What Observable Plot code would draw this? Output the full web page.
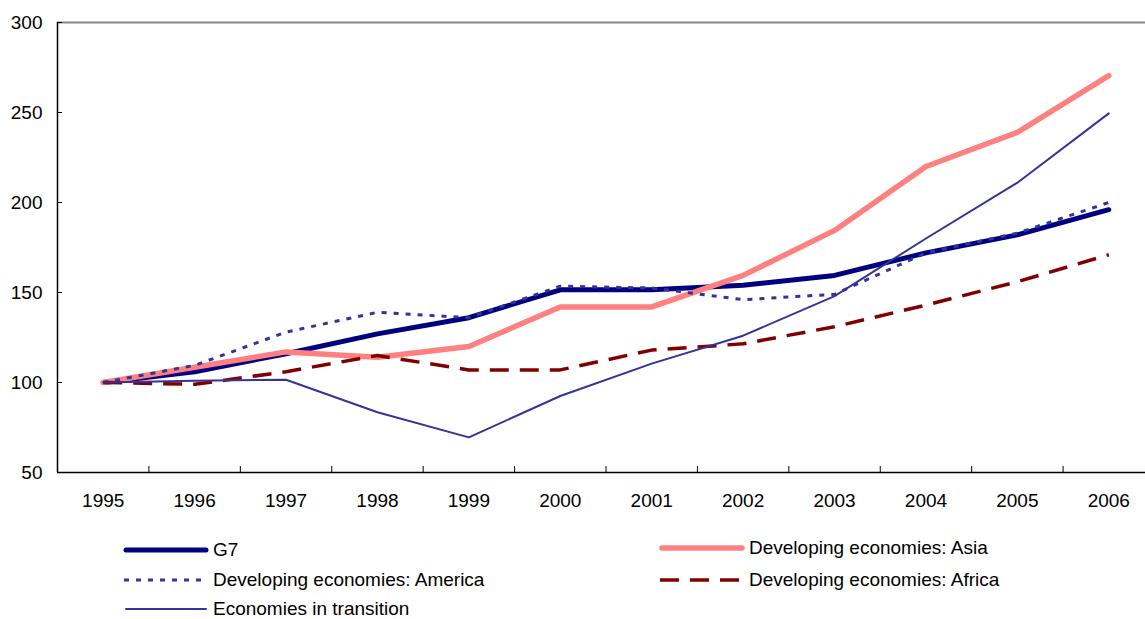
<!DOCTYPE html>
<html><head><meta charset="utf-8">
<script src="https://cdn.jsdelivr.net/npm/d3@7"></script>
<script src="https://cdn.jsdelivr.net/npm/@observablehq/plot@0.6"></script>
<style>
body{margin:0;background:#fff;font-family:Arial,"Liberation Sans",sans-serif;}
#legend{position:relative;height:94px;width:1145px;}
.item{position:absolute;display:flex;align-items:center;font-size:19px;color:#000;height:24px;white-space:nowrap;}
.item svg{margin-right:3px;}
</style></head><body>
<div id="chart"></div>
<div id="legend"></div>
<script>
const years = [1995, 1996, 1997, 1998, 1999, 2000, 2001, 2002, 2003, 2004, 2005, 2006];
const yTicks = [50, 100, 150, 200, 250, 300];
const seriesNames = ["G7", "Developing economies: Asia", "Developing economies: America", "Developing economies: Africa", "Economies in transition"];
const g7 = [100, 106, 116, 127, 136, 151.5, 151.5, 154, 159.5, 172, 182, 196];
const asia = [100, 108.5, 117, 114, 120, 142, 142, 159.5, 184.5, 220, 239, 270.5];
const america = [100, 109.5, 128, 139, 136, 153.5, 152.5, 146, 149, 172, 183, 200];
const africa = [100, 99, 106, 115, 107, 107, 118, 121.5, 131, 143, 156, 171];
const transition = [100, 101, 101.5, 83.5, 69.5, 92.5, 110.5, 126, 148, 180, 211, 249.5];

const valuesList = [g7, asia, america, africa, transition];
const styles = [
  {color: "#000080", width: 5, dash: null, cap: "round"},
  {color: "#FF8080", width: 5.5, dash: null, cap: "round"},
  {color: "#333399", width: 3, dash: "5,7", cap: "butt"},
  {color: "#800000", width: 3.5, dash: "19,11", cap: "butt"},
  {color: "#333399", width: 2, dash: null, cap: "round"}
];

const data = seriesNames.flatMap((name, k) => years.map((year, i) => ({year, value: valuesList[k][i], name})));
const halfYears = years.slice(1).map(y => y - 0.5);
const x0 = years[0] - 0.5, x1 = years[years.length - 1] + 0.5;

const chart = Plot.plot({
  width: 1145, height: 525,
  marginTop: 22, marginBottom: 53, marginLeft: 57, marginRight: 0,
  style: {fontFamily: 'Arial,"Liberation Sans",sans-serif', fontSize: "19px", color: "#000", background: "#fff", overflow: "visible"},
  x: {type: "linear", domain: [x0, x1], range: [57, 1154]},
  y: {domain: [50, 300]},
  marks: [
    Plot.ruleY([300], {stroke: "#888", strokeWidth: 2}),
    Plot.axisY(yTicks, {tickSize: 0, tickPadding: 15, label: null, fontSize: 19}),
    Plot.axisY(yTicks, {tickSize: 5, dx: 5, tickFormat: () => "", label: null}),
    Plot.axisX(years, {tickSize: 0, tickPadding: 21, tickFormat: d => String(d), label: null, fontSize: 19}),
    Plot.axisX(halfYears, {tickSize: 6, dy: -6, tickFormat: () => "", label: null}),
    Plot.ruleY([50], {stroke: "#000", strokeWidth: 1.5}),
    Plot.ruleX([x0], {stroke: "#000", strokeWidth: 1.5}),
    ...seriesNames.map((name, k) => Plot.line(data.filter(d => d.name === name), {
      x: "year", y: "value", stroke: styles[k].color, strokeWidth: styles[k].width,
      strokeDasharray: styles[k].dash, strokeLinejoin: "round", strokeLinecap: styles[k].cap
    }))
  ]
});
document.getElementById("chart").appendChild(chart);

// legend
const legend = document.getElementById("legend");
const positions = [[122, 13], [658, 11], [122, 43], [658, 43], [122, 72]];
seriesNames.forEach((name, k) => {
  const s = styles[k];
  const item = document.createElement("div");
  item.className = "item";
  item.style.left = positions[k][0] + "px";
  item.style.top = positions[k][1] + "px";
  const ns = "http://www.w3.org/2000/svg";
  const svg = document.createElementNS(ns, "svg");
  svg.setAttribute("width", 88); svg.setAttribute("height", 12);
  const ln = document.createElementNS(ns, "line");
  ln.setAttribute("x1", s.cap === "round" ? 4 : 2); ln.setAttribute("x2", s.cap === "round" ? 84 : 86);
  ln.setAttribute("y1", 6); ln.setAttribute("y2", 6);
  ln.setAttribute("stroke", s.color); ln.setAttribute("stroke-width", s.width);
  ln.setAttribute("stroke-linecap", s.cap);
  if (s.dash) ln.setAttribute("stroke-dasharray", s.dash);
  svg.appendChild(ln);
  item.appendChild(svg);
  const span = document.createElement("span");
  span.textContent = name;
  item.appendChild(span);
  legend.appendChild(item);
});
</script>
</body></html>
